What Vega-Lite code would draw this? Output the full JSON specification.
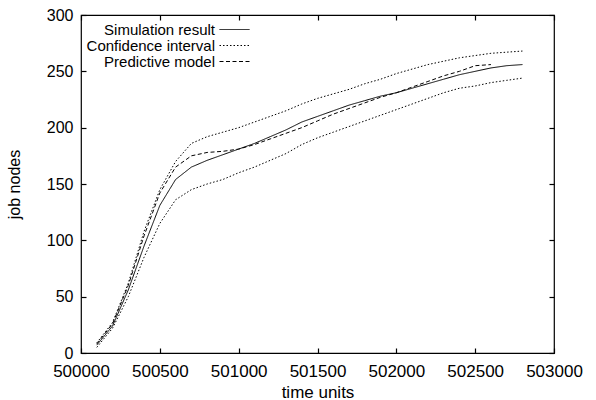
{
  "$schema": "https://vega.github.io/schema/vega-lite/v6.json",
  "width": 473,
  "height": 338,
  "autosize": "none",
  "padding": {"left": 81, "top": 15, "right": 42, "bottom": 47},
  "config": {
    "font": "Liberation Sans",
    "view": {"stroke": "black", "strokeWidth": 1.2},
    "axis": {
      "grid": false,
      "domain": false,
      "ticks": true,
      "tickColor": "#000000",
      "tickOpacity": 1,
      "tickWidth": 1.2,
      "tickSize": 5,
      "offset": -5,
      "labelOverlap": false,
      "labelFlush": false,
      "labelColor": "black",
      "labelFont": "Liberation Sans",
      "labelFontSize": 16,
      "titleColor": "black",
      "titleFont": "Liberation Sans",
      "titleFontSize": 16,
      "titleFontWeight": "normal"
    }
  },
  "data": {
    "values": [
      {"t": 500100, "sim": 7, "upper": 9, "lower": 5, "pred": 8},
      {"t": 500200, "sim": 24, "upper": 27, "lower": 22, "pred": 26},
      {"t": 500300, "sim": 56, "upper": 62, "lower": 50, "pred": 60},
      {"t": 500400, "sim": 95, "upper": 108, "lower": 85, "pred": 104},
      {"t": 500500, "sim": 131, "upper": 145, "lower": 115, "pred": 142},
      {"t": 500600, "sim": 154, "upper": 170, "lower": 136, "pred": 165},
      {"t": 500700, "sim": 165, "upper": 186, "lower": 145, "pred": 175},
      {"t": 500800, "sim": 171, "upper": 192, "lower": 150, "pred": 178},
      {"t": 500900, "sim": 176, "upper": 196, "lower": 154, "pred": 179},
      {"t": 501000, "sim": 181, "upper": 200, "lower": 160, "pred": 181},
      {"t": 501100, "sim": 186, "upper": 205, "lower": 165, "pred": 185},
      {"t": 501200, "sim": 192, "upper": 210, "lower": 171, "pred": 190},
      {"t": 501300, "sim": 198, "upper": 215, "lower": 177, "pred": 195},
      {"t": 501400, "sim": 205, "upper": 221, "lower": 185, "pred": 200},
      {"t": 501500, "sim": 210, "upper": 226, "lower": 191, "pred": 206},
      {"t": 501600, "sim": 215, "upper": 230, "lower": 196, "pred": 212},
      {"t": 501700, "sim": 220, "upper": 234, "lower": 201, "pred": 217},
      {"t": 501800, "sim": 224, "upper": 239, "lower": 206, "pred": 222},
      {"t": 501900, "sim": 228, "upper": 243, "lower": 211, "pred": 227},
      {"t": 502000, "sim": 231, "upper": 248, "lower": 216, "pred": 231},
      {"t": 502100, "sim": 235, "upper": 252, "lower": 221, "pred": 236},
      {"t": 502200, "sim": 239, "upper": 256, "lower": 226, "pred": 241},
      {"t": 502300, "sim": 243, "upper": 259, "lower": 231, "pred": 246},
      {"t": 502400, "sim": 247, "upper": 262, "lower": 235, "pred": 250},
      {"t": 502500, "sim": 250, "upper": 264, "lower": 237, "pred": 255},
      {"t": 502600, "sim": 253, "upper": 266, "lower": 240, "pred": 256},
      {"t": 502700, "sim": 255, "upper": 267, "lower": 242, "pred": null},
      {"t": 502800, "sim": 256, "upper": 268, "lower": 244, "pred": null}
    ]
  },
  "layer": [
    {
      "encoding": {
        "x": {"field": "t", "type": "quantitative", "scale": {"domain": [500000, 503000], "nice": false, "zero": false},
              "axis": {"values": [500000, 500500, 501000, 501500, 502000, 502500, 503000], "format": "d", "title": "time units",
                       "labelFontSize": 17, "titleFontSize": 17, "labelPadding": 10, "titlePadding": 5}}
      },
      "layer": [
        {
          "mark": {"type": "line", "color": "black", "strokeWidth": 1},
          "encoding": {
            "y": {"field": "sim", "type": "quantitative", "scale": {"domain": [0, 300], "nice": false},
                  "axis": {"values": [0, 50, 100, 150, 200, 250, 300], "title": "job nodes",
                           "labelPadding": 8, "titlePadding": 24}},
            "strokeDash": {"datum": "Simulation result", "type": "nominal",
              "scale": {"domain": ["Simulation result", "Confidence interval", "Predictive model"], "range": [[1, 0], [1.5, 2], [4, 2.5]]},
              "legend": {"title": null, "orient": "none", "legendX": 146, "legendY": 7, "padding": 0,
                         "symbolType": "M-3,0H3", "symbolSize": 100, "symbolStrokeWidth": 1, "symbolStrokeColor": "black",
                         "labelAlign": "right", "labelOffset": -27, "labelFontSize": 15, "labelColor": "black", "labelFont": "Liberation Sans",
                         "rowPadding": -7, "labelLimit": 300}}
          }
        },
        {
          "mark": {"type": "line", "color": "black", "strokeWidth": 1},
          "encoding": {
            "y": {"field": "upper", "type": "quantitative"},
            "strokeDash": {"datum": "Confidence interval", "type": "nominal"}
          }
        },
        {
          "mark": {"type": "line", "color": "black", "strokeWidth": 1},
          "encoding": {
            "y": {"field": "lower", "type": "quantitative"},
            "strokeDash": {"datum": "Confidence interval", "type": "nominal"}
          }
        },
        {
          "mark": {"type": "line", "color": "black", "strokeWidth": 1},
          "encoding": {
            "y": {"field": "pred", "type": "quantitative"},
            "strokeDash": {"datum": "Predictive model", "type": "nominal"}
          }
        }
      ]
    },
    {
      "mark": {"type": "point", "opacity": 0},
      "encoding": {
        "x": {"field": "t", "type": "quantitative",
              "axis": {"orient": "top", "values": [500000, 500500, 501000, 501500, 502000, 502500, 503000], "labels": false, "title": null}},
        "y": {"field": "sim", "type": "quantitative",
              "axis": {"orient": "right", "values": [0, 50, 100, 150, 200, 250, 300], "labels": false, "title": null}}
      }
    }
  ],
  "resolve": {"axis": {"x": "independent", "y": "independent"}}
}
